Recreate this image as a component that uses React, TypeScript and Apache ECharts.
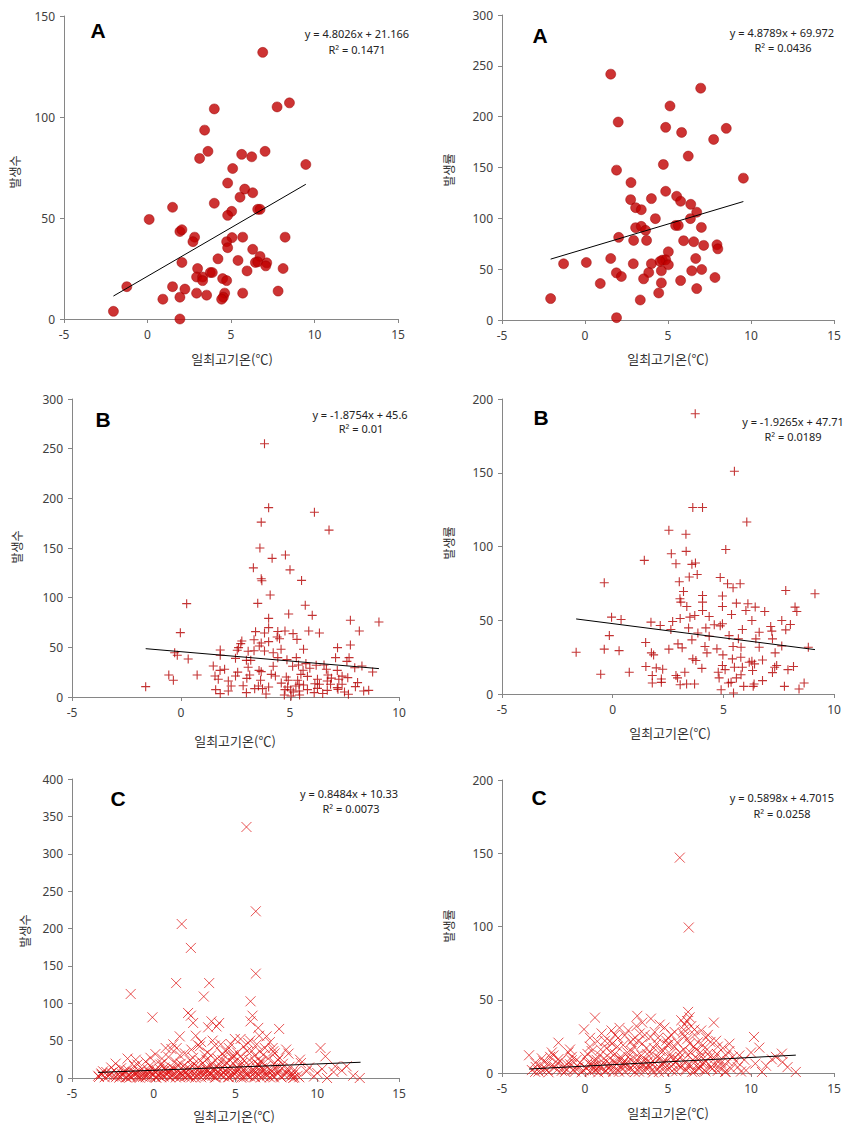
import React, { useEffect, useRef } from 'react';
import * as echarts from 'echarts';

// ---------- data ----------
const xTitle = '일최고기온(℃)';
const countTitle = '발생수';
const rateTitle = '발생률';

const aCount: number[][] = [
  [6.9,132],[7.76,105],[8.5,107],[4.0,104],[3.42,93.5],[3.62,83],[3.12,79.5],[5.64,81.5],[6.24,80.3],[7.04,83],
  [9.48,76.5],[5.1,74.5],[4.8,67.3],[5.82,64.3],[5.54,60.3],[6.3,62.5],[4.0,57.3],[1.5,55.3],[0.1,49.3],[5.04,53.3],
  [4.8,51.3],[6.6,54.3],[6.74,54.3],[1.94,43.3],[2.06,44.2],[2.82,40.5],[2.72,38.3],[5.06,40.3],[4.74,38.3],[5.7,40.5],
  [8.24,40.5],[4.8,35.3],[6.3,34.5],[4.22,29.8],[5.42,29],[6.74,31],[6.46,28],[6.6,28.3],[7.14,27.8],[7.08,26.3],
  [2.06,28],[3.0,25],[5.96,23.8],[8.12,25],[3.76,23],[3.88,23],[2.94,20.8],[3.3,20.8],[3.3,19],[4.5,20],
  [4.74,19],[-1.24,16],[1.5,16],[2.24,14.8],[2.94,12.8],[3.54,11.8],[4.62,12.8],[4.54,10.8],[4.44,9.8],[5.7,12.8],
  [7.82,13.8],[0.92,9.8],[1.94,10.8],[-2.04,3.8],[1.94,0]
];

const aRate: number[][] = [
  [1.55,241.8],[6.97,228],[5.12,210.5],[2.0,194.7],[4.86,189.5],[5.82,184.5],[8.51,188.5],[7.75,177.6],[6.22,161.2],[4.72,153],
  [1.9,147.4],[9.54,139.5],[2.77,135.2],[4.86,126.6],[5.52,121.7],[5.76,116.8],[2.75,118.4],[4.0,119.4],[6.37,113.8],[3.05,110.5],
  [3.39,108.5],[6.73,106],[4.24,99.7],[6.35,99.7],[5.46,93],[5.62,93],[3.05,90.8],[3.39,92.1],[3.65,88.2],[7.01,91.1],
  [2.03,81.3],[2.93,78.3],[3.71,78.3],[5.94,78],[6.55,77],[7.15,73.4],[7.95,74],[8.0,70],[5.02,67.1],[1.55,60.5],
  [4.66,58.9],[4.86,59.2],[4.52,57.6],[5.02,54.3],[6.67,60.5],[-1.29,55.3],[0.08,56.6],[2.91,55.3],[4.0,55.3],[3.84,46.7],
  [4.6,48.4],[6.43,48.4],[7.03,49.7],[1.89,46.4],[2.19,42.8],[3.53,40.5],[7.83,41.8],[5.76,38.8],[0.92,35.9],[4.6,36.5],
  [6.73,30.9],[4.44,26.6],[-2.07,21.1],[3.33,19.7],[1.9,2.3]
];

const bCount: number[][] = [
  [3.83,255],[4.02,190.6],[3.68,176],[6.12,186],[6.79,168],[3.62,150],[4.79,143],[4.18,139.6],[5.0,128],[3.32,130],
  [3.68,119],[3.71,117],[5.53,117.4],[4.09,102.7],[3.52,94.3],[0.26,94],[5.7,92.3],[4.94,83.6],[6.02,82.2],[4.02,79.2],
  [7.77,77.2],[9.08,75.5],[4.02,69.8],[8.18,66.4],[-0.03,64.8],[4.77,66.4],[5.14,63.8],[5.86,66.4],[6.35,64.4],[3.42,65.8],
  [3.83,64.4],[4.41,60.4],[4.52,58.7],[3.35,57.7],[5.32,58],[2.79,56.4],[4.02,55.7],[2.74,53.7],[3.59,51.3],[4.59,48],
  [5.62,48],[7.77,52.3],[2.64,49.7],[3.35,46.6],[3.83,46.3],[4.23,44.6],[7.18,49.7],[1.8,47.3],[-0.29,44.6],[-0.17,42],
  [1.8,42],[3.08,46],[0.33,38.3],[2.5,38.9],[3.0,36.9],[3.2,36.9],[4.86,37.6],[5.29,39.6],[7.09,39.6],[7.71,39.6],
  [7.61,35.9],[5.73,33.6],[6.56,32.2],[5.39,32.2],[1.48,31.2],[2.0,27.9],[4.23,30.9],[3.58,26.8],[3.68,25.5],[8.3,31.2],
  [7.97,29.5],[5.91,28.9],[6.67,27.9],[7.17,26.8],[8.79,25.2],[-0.56,22.1],[0.74,22.1],[1.56,21.1],[2.5,21.1],[3.15,22.1],
  [4.33,21.1],[4.83,20.1],[5.8,20.8],[6.74,22.1],[-0.35,16.8],[1.71,17.8],[2.17,16.1],[3.02,18.8],[3.65,16.8],[4.92,16.8],
  [6.26,17.8],[7.24,17.8],[7.65,19.5],[6.14,13.4],[6.35,12.8],[5.62,12.1],[6.86,12.8],[7.39,12.8],[-1.62,10.4],[2.85,11.4],
  [3.55,11.1],[4.02,10.1],[4.89,10.1],[5.27,11.1],[8.0,10.4],[7.17,9.4],[1.59,7.4],[2.17,6],[3.0,4.4],[3.74,8.4],
  [4.77,7.4],[5.42,6],[5.8,7.4],[6.26,8.7],[6.71,6.7],[8.38,6],[8.61,6.7],[4.74,2],[5.44,2],[7.68,2.7],
  [1.8,3.4],[5.03,7],[5.15,5],[6.11,4.4],[7.2,7.7],[3.38,8.4],[2.58,47],[4.44,66],[3.68,54.4],[7.39,21],
  [5.5,22.8],[4.14,22.8],[6.2,32],[5.12,31],[3.08,30],[1.79,26.8],[5.35,16.8],[5.42,12.8],[6.71,16.1],[4.44,39.6],
  [2.3,11],[2.6,25],[3.9,3],[4.6,14],[5.6,27],[6.5,3.5],[6.9,19],[7.5,5],[8.1,14.5],[5.05,1]
];

const bRate: number[][] = [
  [3.73,190],[5.5,151],[3.62,126.4],[4.06,126.4],[6.06,116.6],[2.54,111],[3.31,108.3],[5.11,98],[1.43,90.6],[2.65,95.1],
  [3.32,96.7],[2.86,88.3],[3.58,87.9],[3.74,88.8],[3.82,81],[3.46,79.3],[4.86,79],[-0.38,75.4],[3.01,76.1],[5.19,74.7],
  [5.44,72],[5.76,74.7],[7.82,70.2],[9.14,68],[3.2,69.5],[3.04,64.6],[4.06,66.8],[4.96,66.4],[6.11,61.2],[5.59,61.6],
  [3.08,62.3],[3.35,59.3],[4.06,62.3],[4.06,56.6],[4.36,52.5],[4.96,59.3],[5.37,53.9],[6.02,56.6],[6.44,58.9],[6.87,55.9],
  [8.24,58.9],[8.32,55.9],[-0.05,52.1],[0.38,50.5],[6.29,49.8],[1.73,48.7],[2.15,46.4],[2.71,49.2],[3.05,51.2],[3.49,52.1],
  [3.71,53.2],[4.59,46.9],[4.86,46.2],[4.21,44.8],[2.63,43.7],[3.43,44.8],[3.85,41.4],[5.86,43.7],[6.62,41.9],[7.14,45.8],
  [7.64,49.8],[8.03,47.1],[7.82,43.5],[7.19,42.6],[-0.15,39.6],[3.58,36.7],[4.36,39.2],[5.26,39.6],[5.68,37.4],[7.22,37.4],
  [6.47,37.4],[-1.65,28.3],[-0.38,30.4],[0.29,29.4],[1.49,34.9],[2.54,30.4],[3.14,31.3],[4.17,32.2],[4.71,30.6],[5.44,32.2],
  [5.8,31.7],[6.62,31.7],[7.64,32.6],[8.84,31.7],[4.26,27.9],[4.98,26.5],[7.34,27.9],[1.75,27.9],[1.85,26.5],[3.62,23.8],
  [3.76,22.7],[5.41,23.8],[5.79,24.9],[6.29,22.2],[6.77,23.1],[1.5,18.6],[1.97,17.7],[2.26,16.8],[4.03,17.4],[4.96,19.3],
  [5.5,18.1],[5.86,18.1],[6.41,20.4],[7.32,18.1],[7.41,19.3],[7.92,16.5],[8.17,18.6],[-0.54,13.4],[0.75,14.7],[2.86,12.5],
  [3.26,14.7],[4.77,14.7],[5.08,16.5],[5.8,13.1],[6.32,15.9],[7.22,14.5],[1.79,12.5],[2.2,10.2],[2.93,10.9],[4.81,10.9],
  [5.59,10.9],[6.77,9.1],[1.79,7.5],[2.2,7.9],[3.05,6.3],[3.34,6.8],[3.7,6.8],[5.23,7.5],[5.35,7.9],[5.92,5.2],
  [6.35,5.2],[7.76,5.2],[8.65,7.5],[4.9,2.9],[5.46,0.7],[8.42,3.4],[6.39,6.8],[6.17,21.5],[2.95,34],[4.96,47.6]
];

const cCount: number[][] = [
  [5.67,335.8],[6.24,223],[1.71,206],[2.27,174],[6.24,139.6],[1.37,127],[3.39,127],[3.06,109],[-1.41,112.4],[5.92,102.6],
  [2.1,87],[2.27,83.4],[-0.08,81.2],[6.04,83.4],[5.92,75.8],[2.41,73.6],[3.53,75.8],[4.0,73.6],[3.84,69],[3.33,67.8],
  [6.39,67],[7.67,65.6],[1.59,55.7],[2.57,56.6],[6.45,56.6],[6.9,55.7],[5.31,52.2],[0.73,40.1],[1.08,38.8],[2.82,42.4],
  [3.73,43.3],[4.71,45.5],[4.96,52.2],[5.78,46.8],[7.27,40.1],[7.31,35.7],[10.2,40.1],[10.5,29],[-1.1,24.5],[-2.33,19.2],
  [-0.24,16.5],[0.51,19.2],[3.22,24.5],[4.18,32.6],[4.86,30.8],[6.18,29.9],[6.49,35.7],[8.24,32.6],[8.94,24.5],[11.1,15.6],
  [11.8,15.6],[10.0,6.7],[10.6,0],[12.6,0],[-3.2,4.5],[-3.35,1.3],[9.35,8.9],[8.53,0],[8.33,4.5],
  [-3.4,3],[-3.2,6],[-3.0,1],[-2.9,8],[-2.7,4],[-2.5,2],[-2.4,10],[-2.2,5],[-2.1,0.5],[-2.0,13],
  [-1.9,3],[-1.8,7],[-1.7,1],[-1.6,11],[-1.5,4],[-1.4,2],[-1.3,8],[-1.2,16],[-1.1,5],[-1.0,1],
  [-0.9,9],[-0.8,3],[-0.7,12],[-0.6,6],[-0.5,1],[-0.4,4],[-0.3,8],[-0.2,2],[-0.1,14],[0,5],
  [0.1,1],[0.2,9],[0.3,3],[0.4,18],[0.5,6],[0.6,2],[0.7,11],[0.8,4],[0.9,7],[1.0,1],
  [1.1,14],[1.2,5],[1.3,22],[1.4,3],[1.5,9],[1.6,1],[1.7,6],[1.8,16],[1.9,2],[2.0,8],
  [2.1,4],[2.2,12],[2.3,1],[2.4,27],[2.5,6],[2.6,3],[2.7,15],[2.8,9],[2.9,1],[3.0,20],
  [3.1,5],[3.2,2],[3.3,11],[3.4,7],[3.5,30],[3.6,3],[3.7,13],[3.8,1],[3.9,8],[4.0,18],
  [4.1,4],[4.2,24],[4.3,2],[4.4,10],[4.5,6],[4.6,1],[4.7,15],[4.8,3],[4.9,28],[5.0,8],
  [5.1,2],[5.2,12],[5.3,5],[5.4,20],[5.5,1],[5.6,9],[5.7,4],[5.8,17],[5.9,2],[6.0,36],
  [6.1,6],[6.2,1],[6.3,13],[6.4,4],[6.5,22],[6.6,8],[6.7,2],[6.8,11],[6.9,5],[7.0,26],
  [7.1,1],[7.2,9],[7.3,3],[7.5,15],[7.6,6],[7.8,1],[7.9,19],[8.0,4],[8.2,10],[8.4,2],
  [0.15,0.5],[0.55,4],[0.95,2.5],[1.35,0.8],[1.75,3.5],[2.15,1.5],[2.55,0.3],[2.95,4.5],[3.35,2.2],[3.75,0.6],
  [4.15,3.8],[4.55,1.2],[4.95,5.2],[5.35,0.4],[5.75,2.8],[6.15,1.9],[6.55,0.7],[6.95,3.3],[7.35,0.9],[7.75,2.4],
  [-0.45,2.6],[-0.85,0.4],[-1.25,3.1],[-1.65,0.9],[-2.05,2.2],[1.05,10.5],[2.05,13.5],[3.05,9.5],[4.05,11],[5.05,14],
  [6.05,10],[0.35,12.5],[1.45,17],[2.45,19],[3.45,16],[4.45,21],[5.45,25],[6.45,17],[7.45,12],[8.45,7],
  [8.6,1],[8.8,3],[0.9,28],[1.9,33],[2.3,38],[2.7,44],[3.1,31],[4.4,36],[4.6,40],[5.1,34],
  [5.5,42],[5.9,50],[6.3,45],[6.7,31],[7.1,48],[7.7,27],[8.1,38],[-0.5,22],[-1.6,26],[0.1,32],
  [1.2,45],[3.6,50],[9.0,20],[9.5,14],[10.3,12],[11.0,8],[11.5,10],[12.2,3],[9.8,2],
  [-3.1,9],[-2.8,2.5],[-2.6,7],[-2.3,1.5],[-1.95,6],[-1.75,10],[-1.45,1],[-1.15,7],[-0.95,4],[-0.65,1.5],
  [-0.35,11],[-0.15,6],[0.05,9],[0.25,4],[0.45,1],[0.65,14],[0.85,8],[1.15,3],[1.25,12],[1.55,5],
  [1.65,19],[1.85,10],[2.05,3],[2.25,7],[2.35,16],[2.65,10],[2.75,4],[2.85,23],[3.15,13],[3.25,8],
  [3.45,4],[3.55,20],[3.65,10],[3.85,5],[3.95,14],[4.25,8],[4.35,17],[4.65,11],[4.75,5],[4.85,20],
  [5.15,9],[5.25,16],[5.55,13],[5.65,6],[5.85,24],[6.25,8],[6.35,18],[6.6,13],[6.75,6],[6.85,16],
  [7.15,11],[7.25,4],[7.4,20],[7.65,9],[7.85,13],[8.1,6],[8.3,15],[8.5,4],[8.7,9],[8.9,1],
  [0.5,26],[1.6,30],[2.2,24],[3.3,34],[3.9,26],[4.3,30],[5.3,29],[5.7,36],[6.2,22],[6.8,40],
  [7.4,33],[-1.0,18],[-2.6,14],[-0.2,27],[1.4,40],[2.9,48],[4.1,45],[4.8,27],[6.6,22],[7.6,24]
];

const cRate: number[][] = [
  [5.71,147],[6.25,99.3],[6.21,41.7],[0.6,37.8],[3.15,39],[3.97,37.1],[3.45,34.4],[6.15,35.5],[7.76,34.4],[-0.06,29.8],
  [2.08,30.8],[4.79,31],[5.95,29.6],[6.59,29.6],[2.4,25.7],[3.95,24.6],[10.18,24.6],[-1.6,20.7],[0.74,21.6],[1.5,21.6],
  [1.64,20],[2.75,21.2],[5.05,19.6],[7.29,24.1],[7.56,21.2],[10.5,17.3],[-3.37,12.1],[11.86,13.2],[11.26,9.3],[11.9,7.5],
  [12.7,0.7],[10.66,0.7],[10.26,6.4],[9.7,1.8],[8.46,0.7],[-2.97,4.1],[-2.26,6.4],[-1.66,6.8],[-0.8,8.7],[-2.57,1.8],
  [-3.2,2],[-3.0,7],[-2.8,1],[-2.6,10],[-2.4,3],[-2.2,0.5],[-2.0,5],[-1.9,12],[-1.7,2],[-1.5,8],
  [-1.3,4],[-1.2,0.8],[-1.0,14],[-0.9,6],[-0.7,2],[-0.5,9],[-0.4,4],[-0.2,0.5],[0,11],[0.1,3],
  [0.2,7],[0.3,1],[0.4,15],[0.5,5],[0.6,2],[0.7,9],[0.8,0.5],[0.9,12],[1.0,4],[1.1,7],
  [1.2,1],[1.3,17],[1.4,3],[1.5,10],[1.6,5],[1.7,0.8],[1.8,13],[1.9,6],[2.0,2],[2.1,9],
  [2.2,4],[2.3,19],[2.4,1],[2.5,7],[2.6,11],[2.7,3],[2.8,15],[2.9,5],[3.0,0.6],[3.1,9],
  [3.2,22],[3.3,3],[3.4,12],[3.5,6],[3.6,1.5],[3.7,17],[3.8,8],[3.9,4],[4.0,13],[4.1,0.4],
  [4.2,7],[4.3,20],[4.4,2.5],[4.5,10],[4.6,5],[4.7,15],[4.8,1],[4.9,8],[5.0,24],[5.1,3],
  [5.2,11],[5.3,6],[5.4,18],[5.5,1.2],[5.6,9],[5.7,14],[5.8,4],[5.9,27],[6.0,7],[6.1,2],
  [6.2,12],[6.3,20],[6.4,5],[6.5,9],[6.6,1],[6.7,16],[6.8,6],[6.9,3],[7.0,11],[7.1,19],
  [7.2,2],[7.3,8],[7.4,13],[7.6,4],[7.8,10],[8.0,1.5],[8.2,7],[8.5,12],[8.8,3],[9.1,8],
  [-1.1,2.5],[-0.6,1],[0.05,3.5],[0.45,2],[0.85,4.2],[1.25,1.6],[1.65,3],[2.05,0.9],[2.45,4.4],[2.85,2.3],
  [3.25,1],[3.65,3.6],[4.05,2.1],[4.45,0.7],[4.85,3.9],[5.25,1.4],[5.65,4.8],[6.05,2.6],[6.45,0.8],[6.85,3.2],
  [7.25,1.1],[7.65,2.7],[8.05,4.1],[8.45,0.9],[0.65,5.5],[1.45,6.5],[2.25,5.8],[3.05,6.8],[3.85,5.2],[4.65,6.2],
  [5.45,7.2],[6.25,5.6],[7.05,6.4],[0.3,24],[1.0,27],[1.8,26],[2.6,29],[3.3,27],[4.2,28],[4.5,33],
  [5.2,26],[6.0,33],[6.6,26],[7.0,29],[7.9,22],[8.3,17],[8.7,15],[9.3,12],[9.6,9],[10.0,14],
  [10.9,5],[11.5,11],[12.2,4],
  [-3.0,0.8],[-2.7,4.5],[-2.5,8],[-2.3,2],[-2.1,11],[-1.8,4],[-1.6,9.5],[-1.4,1.5],[-1.1,6],[-0.8,11],
  [-0.6,3.5],[-0.3,7],[-0.1,1.8],[0.15,13],[0.35,5.5],[0.55,9],[0.75,2.8],[0.95,16],[1.15,10],[1.35,4.8],
  [1.55,14],[1.75,8],[1.95,18],[2.15,11],[2.35,7.5],[2.55,14],[2.75,9],[2.95,18],[3.15,12],[3.35,6],
  [3.45,20],[3.55,9],[3.75,13],[3.95,7],[4.15,17],[4.35,11],[4.55,15],[4.75,8],[4.95,19],[5.15,13],
  [5.35,9.5],[5.55,21],[5.75,11],[5.95,16],[6.15,23],[6.35,14],[6.55,18],[6.75,10],[6.95,14],[7.15,7],
  [7.35,16],[7.55,11],[7.75,6],[7.95,13],[8.15,9],[8.35,4],[8.6,8],[8.9,11],[9.2,4],[9.4,1],
  [0.3,18],[1.2,22],[2.0,24],[2.9,23],[3.6,26],[4.4,24],[5.4,28],[6.0,25],[6.4,32],[6.8,21],
  [7.4,26],[-0.9,16],[-2.0,14],[1.6,29],[3.1,32],[4.9,22],[5.8,36],[6.3,38],[8.0,18],[8.7,20]
];

// trend line coefficients [slope, intercept] and x range of the fitted line
const fitCoef: number[][] = [[4.8026, 21.166], [4.8789, 69.972], [-1.8754, 45.6], [-1.9265, 47.71], [0.8484, 10.33], [0.5898, 4.7015]];
const fitRange: number[][] = [[-2.04, 9.48], [-2.07, 9.54], [-1.62, 9.08], [-1.65, 9.14], [-3.4, 12.65], [-3.37, 12.7]];
const eqTexts: string[] = ['y = 4.8026x + 21.166', 'y = 4.8789x + 69.972', 'y = -1.8754x + 45.6', 'y = -1.9265x + 47.71', 'y = 0.8484x + 10.33', 'y = 0.5898x + 4.7015'];
const r2Texts: string[] = ['R² = 0.1471', 'R² = 0.0436', 'R² = 0.01', 'R² = 0.0189', 'R² = 0.0073', 'R² = 0.0258'];
const panelLetters: string[] = ['A', 'A', 'B', 'B', 'C', 'C'];
const xMaxes: number[] = [15, 15, 10, 10, 15, 15];
const yMaxes: number[] = [150, 300, 300, 200, 400, 200];
const seriesData: number[][][] = [aCount, aRate, bCount, bRate, cCount, cRate];

// ---------- layout ----------
const grids = [
  { left: 64, top: 16, width: 334, height: 303 },
  { left: 502, top: 15, width: 332, height: 305 },
  { left: 72, top: 399, width: 327, height: 298 },
  { left: 502, top: 399, width: 332, height: 295 },
  { left: 72, top: 779, width: 327, height: 299 },
  { left: 502, top: 780, width: 332, height: 293 },
];
const letterPos = [[98, 30], [540, 35], [103, 419], [541, 417], [118, 798], [539, 797]];
const eqPos = [[357, 33], [782, 32], [360, 414], [793, 421], [349, 793], [782, 797]];
const r2Pos = [[357, 49], [783, 47], [361, 428], [793, 436], [351, 808], [782, 813]];
const yTitlePos = [[14, 172], [448, 170], [16, 547], [448, 543], [24, 931], [448, 926]];
const xTitlePos = [[232, 358], [668, 358], [235, 740], [670, 732], [234, 1115], [668, 1112]];

const plusPath = 'path://M5,0L5,10M0,5L10,5';
const crossPath = 'path://M0,0L10,10M10,0L0,10';

const axisColor = '#868686';
const labelColor = '#404040';

function buildOption() {
  const xAxis: any[] = [];
  const yAxis: any[] = [];
  const series: any[] = [];
  const graphic: any[] = [];
  grids.forEach((g, i) => {
    xAxis.push({
      type: 'value', gridIndex: i, min: -5, max: xMaxes[i], interval: 5,
      axisLine: { show: true, onZero: false, lineStyle: { color: axisColor, width: 1 } },
      axisTick: { show: true, length: 4, lineStyle: { color: axisColor } },
      splitLine: { show: false },
      axisLabel: { color: labelColor, fontSize: 12, margin: 9, fontFamily: 'Noto Sans' },
    });
    yAxis.push({
      type: 'value', gridIndex: i, min: 0, max: yMaxes[i], interval: 50,
      axisLine: { show: true, onZero: false, lineStyle: { color: axisColor, width: 1 } },
      axisTick: { show: true, length: 4, lineStyle: { color: axisColor } },
      splitLine: { show: false },
      axisLabel: { color: labelColor, fontSize: 12, margin: 9, fontFamily: 'Noto Sans' },
    });
    const kind = Math.floor(i / 2);
    if (kind === 0) {
      series.push({
        type: 'scatter', xAxisIndex: i, yAxisIndex: i, data: seriesData[i], symbol: 'circle', symbolSize: 10,
        itemStyle: { color: '#C00000', borderColor: '#990000', borderWidth: 0.6 }, z: 2,
      });
    } else if (kind === 1) {
      series.push({
        type: 'scatter', xAxisIndex: i, yAxisIndex: i, data: seriesData[i], symbol: plusPath, symbolSize: 9,
        itemStyle: { color: 'none', borderColor: '#B40000', borderWidth: 1.1 }, z: 2,
      });
    } else {
      series.push({
        type: 'scatter', xAxisIndex: i, yAxisIndex: i, data: seriesData[i], symbol: crossPath, symbolSize: 10,
        itemStyle: { color: 'none', borderColor: '#DD1010', borderWidth: 0.9 }, z: 2,
      });
    }
    const [a, b] = fitCoef[i];
    const [x0, x1] = fitRange[i];
    series.push({
      type: 'line', xAxisIndex: i, yAxisIndex: i, data: [[x0, a * x0 + b], [x1, a * x1 + b]],
      showSymbol: false, symbol: 'none', lineStyle: { color: '#000', width: 1 }, z: 3, silent: true,
    });
    graphic.push({
      type: 'text', x: letterPos[i][0], y: letterPos[i][1],
      style: { text: panelLetters[i], font: 'bold 21px "Liberation Sans", Arial, sans-serif', fill: '#000', align: 'center', verticalAlign: 'middle' },
    });
    graphic.push({
      type: 'text', x: eqPos[i][0], y: eqPos[i][1],
      style: { text: eqTexts[i], font: '11px "Noto Sans", sans-serif', fill: '#222', align: 'center', verticalAlign: 'middle' },
    });
    graphic.push({
      type: 'text', x: r2Pos[i][0], y: r2Pos[i][1],
      style: { text: r2Texts[i], font: '11px "Noto Sans", sans-serif', fill: '#222', align: 'center', verticalAlign: 'middle' },
    });
    graphic.push({
      type: 'text', x: yTitlePos[i][0], y: yTitlePos[i][1], rotation: Math.PI / 2,
      style: { text: i % 2 === 0 ? countTitle : rateTitle, font: '12px "Noto Sans CJK KR", sans-serif', fill: '#333', align: 'center', verticalAlign: 'middle' },
    });
    graphic.push({
      type: 'text', x: xTitlePos[i][0], y: xTitlePos[i][1],
      style: { text: xTitle, font: '13px "Noto Sans CJK KR", sans-serif', fill: '#333', align: 'center', verticalAlign: 'middle' },
    });
  });
  return {
    animation: false,
    backgroundColor: '#ffffff',
    grid: grids.map((g) => ({ ...g, containLabel: false })),
    xAxis, yAxis, series, graphic,
  };
}

export default function App() {
  const ref = useRef<HTMLDivElement>(null);
  useEffect(() => {
    if (!ref.current) return;
    const chart = echarts.init(ref.current, null, { renderer: 'svg' });
    chart.setOption(buildOption());
    return () => chart.dispose();
  }, []);
  return (
    <div
      ref={ref}
      style={{ position: 'absolute', left: 0, top: 0, width: 865, height: 1134, background: '#fff' }}
    />
  );
}
